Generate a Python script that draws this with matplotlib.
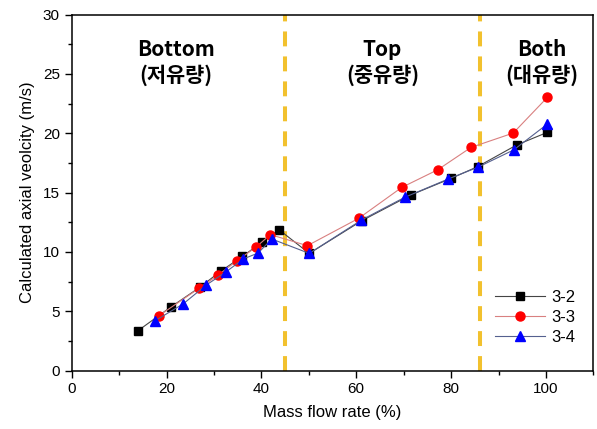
import matplotlib
matplotlib.use("Agg")
import matplotlib.pyplot as plt
from matplotlib.ticker import MultipleLocator

# Data
x_32 = [14, 21, 27, 31.4, 36, 40.1, 43.7, 50.1, 61.2, 71.5, 80, 85.6, 93.8, 100.3]
y_32 = [3.37, 5.39, 7.02, 8.37, 9.63, 10.81, 11.88, 9.88, 12.64, 14.8, 16.2, 17.19, 19.01, 20.08]

x_33 = [18.4, 26.9, 30.8, 34.9, 38.8, 41.9, 49.7, 60.5, 69.6, 77.2, 84.2, 93.1, 100.3]
y_33 = [4.63, 6.95, 8.03, 9.27, 10.39, 11.46, 10.53, 12.83, 15.44, 16.93, 18.81, 20.02, 23.03]

x_34 = [17.6, 23.5, 28.4, 32.6, 36.2, 39.3, 42.2, 50.1, 61.1, 70.2, 79.4, 85.6, 93.2, 100.3]
y_34 = [4.21, 5.62, 7.22, 8.34, 9.41, 9.91, 11.09, 9.88, 12.69, 14.6, 16.15, 17.13, 18.6, 20.78]

series_labels = ["3-2", "3-3", "3-4"]
boundaries = [45, 86]
region_x = [22, 65.5, 99.2]
region_names = ["Bottom", "Top", "Both"]
region_korean = ["(저유량)", "(중유량)", "(대유량)"]

plt.rcParams['font.family'] = ['Liberation Sans', 'DejaVu Sans']

fig = plt.figure(figsize=(5.97, 4.29), dpi=100)
ax = fig.add_axes([0.120, 0.136, 0.874, 0.830])

ax.plot(x_32, y_32, color='#444444', lw=0.8, marker='s', ms=6,
        mfc='black', mec='black', label=series_labels[0], zorder=3)
ax.plot(x_33, y_33, color='#d98080', lw=0.8, marker='o', ms=6.5,
        mfc='red', mec='red', label=series_labels[1], zorder=3)
ax.plot(x_34, y_34, color='#55608f', lw=0.8, marker='^', ms=7,
        mfc='blue', mec='blue', label=series_labels[2], zorder=4)

for b in boundaries:
    ax.axvline(b, color='#F2C12E', lw=2.9, dashes=(3.7, 2.5), zorder=2)

for xr, nm, kr in zip(region_x, region_names, region_korean):
    ax.text(xr, 27.1, nm, ha='center', va='center', fontsize=15, fontweight='bold',
            family=['Noto Sans CJK KR', 'DejaVu Sans'])
    ax.text(xr, 24.9, kr, ha='center', va='center', fontsize=15, fontweight='bold',
            family=['Noto Sans CJK KR', 'DejaVu Sans'])

ax.set_xlim(0, 110)
ax.set_ylim(0, 30)
ax.xaxis.set_major_locator(MultipleLocator(20))
ax.xaxis.set_minor_locator(MultipleLocator(10))
ax.yaxis.set_major_locator(MultipleLocator(5))
ax.yaxis.set_minor_locator(MultipleLocator(2.5))
ax.tick_params(axis='both', which='major', direction='out', length=5, width=1, labelsize=11)
ax.tick_params(axis='both', which='minor', direction='out', length=3, width=1)
for s in ax.spines.values():
    s.set_linewidth(1.1)

ax.set_xlabel("Mass flow rate (%)", fontsize=12, labelpad=6)
ax.set_ylabel("Calculated axial veolcity (m/s)", fontsize=12, labelpad=6)

leg = ax.legend(loc='lower right', bbox_to_anchor=(0.995, 0.03), frameon=False,
                fontsize=12, handlelength=3.0, handletextpad=0.4, labelspacing=0.3)

fig.savefig("out.png", dpi=100)
